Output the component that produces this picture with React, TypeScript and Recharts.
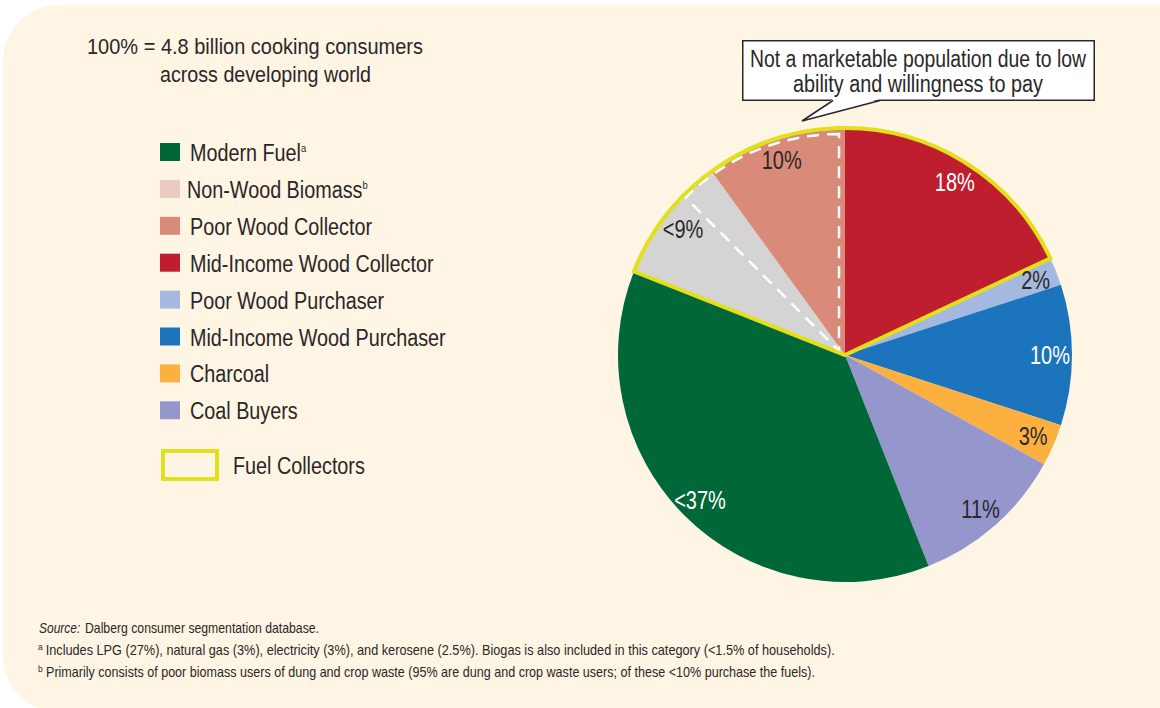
import React from 'react';
import { PieChart, Pie, Cell } from 'recharts';

// segments in clockwise order from 12 o'clock
const SEGMENTS = [
  'Mid-Income Wood Collector',
  'Poor Wood Purchaser',
  'Mid-Income Wood Purchaser',
  'Charcoal',
  'Coal Buyers',
  'Modern Fuel',
  'Non-Wood Biomass',
  'Poor Wood Collector',
];
const SHARES = [18, 2, 10, 3, 11, 37, 9, 10];
const SHARE_LABELS = ['18%', '2%', '10%', '3%', '11%', '<37%', '<9%', '10%'];

const FUEL_COLLECTORS = ['Non-Wood Biomass', 'Poor Wood Collector', 'Mid-Income Wood Collector'];
const NOT_MARKETABLE_SHARE = 12.5;

const LEGEND_ITEMS = [
  'Modern Fuel',
  'Non-Wood Biomass',
  'Poor Wood Collector',
  'Mid-Income Wood Collector',
  'Poor Wood Purchaser',
  'Mid-Income Wood Purchaser',
  'Charcoal',
  'Coal Buyers',
];
const LEGEND_NOTES: Record<string, string> = { 'Modern Fuel': 'a', 'Non-Wood Biomass': 'b' };

const TITLE = ['100% = 4.8 billion cooking consumers', 'across developing world'];
const CALLOUT = ['Not a marketable population due to low', 'ability and willingness to pay'];
const SOURCE = 'Dalberg consumer segmentation database.';
const NOTE_A = 'Includes LPG (27%), natural gas (3%), electricity (3%), and kerosene (2.5%). Biogas is also included in this category (<1.5% of households).';
const NOTE_B = 'Primarily consists of poor biomass users of dung and crop waste (95% are dung and crop waste users; of these <10% purchase the fuels).';

const SLICE_COLORS: Record<string, string> = {
  'Mid-Income Wood Collector': '#be1e2d',
  'Poor Wood Purchaser': '#a5b9e0',
  'Mid-Income Wood Purchaser': '#1c75bc',
  'Charcoal': '#fbb040',
  'Coal Buyers': '#9596cb',
  'Modern Fuel': '#006838',
  'Non-Wood Biomass': '#d4d4d4',
  'Poor Wood Collector': '#d98a78',
};
const SWATCH_COLORS: Record<string, string> = { ...SLICE_COLORS, 'Non-Wood Biomass': '#ebcac0' };
const WHITE_LABELS = ['Mid-Income Wood Collector', 'Mid-Income Wood Purchaser', 'Modern Fuel'];

const YELLOW = '#e3df1c';
const INK = '#2b2728';
const FONT = "'Liberation Sans', Arial, sans-serif";
const SQUEEZE = 0.86; // condensed look

const CX = 845;
const CY = 355;
const R = 227;
const RAD = Math.PI / 180;

const pieData = SEGMENTS.map((name, i) => ({ name, value: SHARES[i], label: SHARE_LABELS[i] }));

// fuel collectors are contiguous: Non-Wood Biomass -> Poor Wood Collector -> Mid-Income Wood Collector
const total = SHARES.reduce((a, b) => a + b, 0);
const collectorsTotal = SEGMENTS.reduce((s, n, i) => (FUEL_COLLECTORS.includes(n) ? s + SHARES[i] : s), 0);
const beforeCollectors = SHARES.slice(0, SEGMENTS.indexOf('Non-Wood Biomass')).reduce((a, b) => a + b, 0);
const collectorStart = 90 - (360 * beforeCollectors) / total;
const collectorData = [
  { name: 'Fuel Collectors', value: collectorsTotal },
  { name: 'Other', value: total - collectorsTotal },
];
const notMarketableData = [
  { name: 'Not marketable', value: NOT_MARKETABLE_SHARE },
  { name: 'Other', value: total - NOT_MARKETABLE_SHARE },
];

const renderLabel = (props: any) => {
  const { cx, cy, midAngle, index } = props;
  const r = 205;
  const x = cx + r * Math.cos(-midAngle * RAD);
  const y = cy + r * Math.sin(-midAngle * RAD);
  const name = SEGMENTS[index];
  return (
    <text
      transform={`translate(${x},${y + 9}) scale(0.8,1)`}
      textAnchor="middle"
      fill={WHITE_LABELS.includes(name) ? '#ffffff' : INK}
      fontFamily={FONT}
      fontSize={25}
    >
      {SHARE_LABELS[index]}
    </text>
  );
};

export default function App() {
  return (
    <div style={{ position: 'absolute', left: 0, top: 0, width: 1160, height: 708, overflow: 'hidden', background: '#fff' }}>
      <div style={{ position: 'absolute', left: 3, top: 5, width: 1200, height: 707, background: '#fef5e4', borderRadius: '56px 0 0 56px' }} />

      <div style={{ position: 'absolute', left: 0, top: 0 }}>
        <PieChart width={1160} height={708} margin={{ top: 0, right: 0, bottom: 0, left: 0 }}>
          <Pie
            data={pieData}
            dataKey="value"
            cx={CX}
            cy={CY}
            outerRadius={R}
            startAngle={90}
            endAngle={-270}
            stroke="none"
            label={renderLabel}
            labelLine={false}
            isAnimationActive={false}
          >
            {pieData.map((d) => (
              <Cell key={d.name} fill={SLICE_COLORS[d.name]} stroke="none" />
            ))}
          </Pie>
          <Pie
            data={notMarketableData}
            dataKey="value"
            cx={CX - 6}
            cy={CY - 4}
            outerRadius={R - 10}
            startAngle={90}
            endAngle={450}
            label={false}
            labelLine={false}
            isAnimationActive={false}
          >
            <Cell fill="none" stroke="#ffffff" strokeWidth={2.5} strokeDasharray="12 8" />
            <Cell fill="none" stroke="none" />
          </Pie>
          <Pie
            data={collectorData}
            dataKey="value"
            cx={CX}
            cy={CY}
            outerRadius={R}
            startAngle={collectorStart}
            endAngle={collectorStart - 360}
            label={false}
            labelLine={false}
            isAnimationActive={false}
          >
            <Cell fill="none" stroke={YELLOW} strokeWidth={4} />
            <Cell fill="none" stroke="none" />
          </Pie>
        </PieChart>
      </div>

      <svg style={{ position: 'absolute', left: 0, top: 0 }} width={1160} height={708} fontFamily={FONT} fill={INK}>
        {/* header */}
        <text x={87} y={54} fontSize={22.5} textLength={336} lengthAdjust="spacingAndGlyphs">{TITLE[0]}</text>
        <text x={160} y={81.5} fontSize={22.5} textLength={211} lengthAdjust="spacingAndGlyphs">{TITLE[1]}</text>

        {/* legend */}
        {LEGEND_ITEMS.map((name, i) => {
          const top = 143 + i * 36.9;
          return (
            <g key={name}>
              <rect x={160} y={top} width={20} height={18} fill={SWATCH_COLORS[name]} />
              <text transform={`translate(${name === 'Non-Wood Biomass' ? 187 : 190},${top + 18}) scale(${SQUEEZE},1)`} fontSize={23}>
                {name}
                {LEGEND_NOTES[name] && (
                  <tspan fontSize={11} dy={-9}>{LEGEND_NOTES[name]}</tspan>
                )}
              </text>
            </g>
          );
        })}
        <rect x={163} y={451} width={54} height={28} fill="none" stroke={YELLOW} strokeWidth={4} />
        <text transform={`translate(233,474) scale(${SQUEEZE},1)`} fontSize={23}>Fuel Collectors</text>

        {/* callout */}
        <rect x={742.75} y={40.75} width={351.5} height={59.5} fill="#fff" stroke={INK} strokeWidth={1.5} />
        <polygon points="833,99 802,121 880,99" fill="#fff" />
        <polyline points="833,100.5 802,121 880,100.5" fill="none" stroke={INK} strokeWidth={1.5} />
        <text x={750} y={67.3} fontSize={23} textLength={336} lengthAdjust="spacingAndGlyphs">{CALLOUT[0]}</text>
        <text x={793} y={91.7} fontSize={23} textLength={250} lengthAdjust="spacingAndGlyphs">{CALLOUT[1]}</text>

        {/* footnotes */}
        <text transform="translate(39,633.3) scale(0.8,1)" fontSize={15} fontStyle="italic">Source:</text>
        <text x={85} y={633.3} fontSize={15} textLength={234} lengthAdjust="spacingAndGlyphs">{SOURCE}</text>
        <text x={38} y={650} fontSize={8.5}>a</text>
        <text x={45.7} y={655} fontSize={15} textLength={789} lengthAdjust="spacingAndGlyphs">{NOTE_A}</text>
        <text x={38} y={671.5} fontSize={8.5}>b</text>
        <text x={46} y={676.7} fontSize={15} textLength={769} lengthAdjust="spacingAndGlyphs">{NOTE_B}</text>
      </svg>
    </div>
  );
}
